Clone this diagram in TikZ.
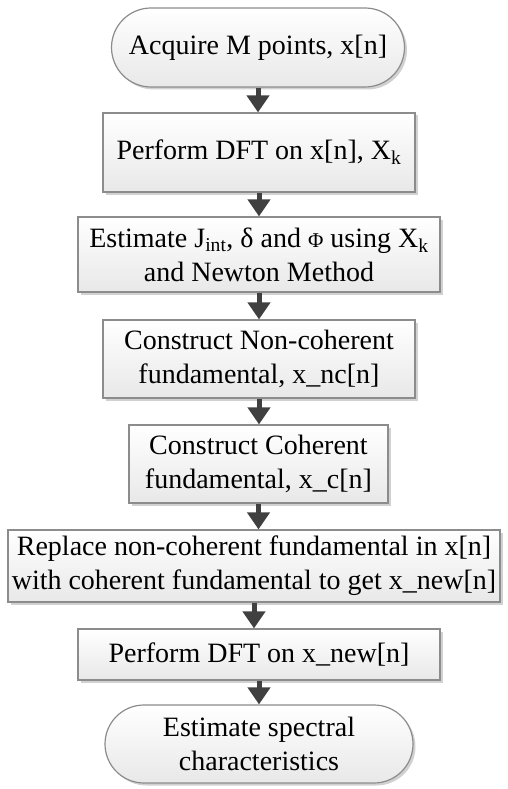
\documentclass[tikz,border=0pt]{standalone}
\usepackage{fontspec}
\setmainfont{Liberation Serif}
\usetikzlibrary{arrows.meta,shapes.misc,shadows}

\begin{document}
\begin{tikzpicture}[x=1pt,y=1pt,
		box/.style={rectangle,draw=black!45,line width=1.2pt,
				top color=white,bottom color=black!9,
				drop shadow={shadow xshift=2.5pt,shadow yshift=-2.5pt,fill=black!30,opacity=0.6},
				align=center,inner sep=2pt,font=\fontsize{28}{34}\selectfont},
		term/.style={box,rounded rectangle},
		flow/.style={draw=black!75,line width=5pt,-{Triangle[width=22pt,length=17pt]}}]
		\useasboundingbox (0,0) rectangle (508,-789);

		% Steps
		\node[term,minimum width=297pt,minimum height=79pt] (acq) at (258,-47.5) {Acquire M points, x[n]};
		\node[box,minimum width=312pt,minimum height=79pt] (dft) at (259,-152.5) {Perform DFT on x[n], X\textsubscript{k}};
		\node[box,minimum width=362pt,minimum height=75pt] (est) at (259,-254.5) {Estimate J\textsubscript{int}, δ and {\fontsize{21}{21}\selectfont Φ} using X\textsubscript{k}\\and Newton Method};
		\node[box,minimum width=312pt,minimum height=78pt] (nc) at (259,-359) {Construct Non-coherent\\fundamental, x\_nc[n]};
		\node[box,minimum width=259pt,minimum height=78pt] (coh) at (258.5,-464) {Construct Coherent\\fundamental, x\_c[n]};
		\node[box,minimum width=492pt,minimum height=72pt] (rep) at (254,-566) {Replace non-coherent fundamental in x[n]\\with coherent fundamental to get x\_new[n]};
		\node[box,minimum width=362pt,minimum height=51pt] (dfttwo) at (259,-654.5) {Perform DFT on x\_new[n]};
		\node[term,minimum width=312pt,minimum height=78pt] (spec) at (259,-744) {Estimate spectral\\characteristics};

		% Arrows
		\foreach \a/\b in {acq/dft,dft/est,est/nc,nc/coh,coh/rep,rep/dfttwo,dfttwo/spec} {
				\draw[flow] (\a.south) -- (\a.south |- \b.north);
			}
	\end{tikzpicture}
\end{document}
